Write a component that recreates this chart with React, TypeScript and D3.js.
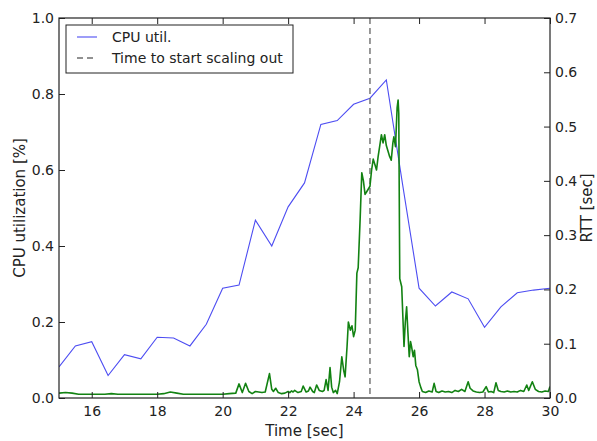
import React, { useEffect, useRef } from 'react';
import * as d3 from 'd3';

// CPU utilization sampled every 0.5 sec
const cpuTimes = [15, 15.5, 16, 16.5, 17, 17.5, 18, 18.5, 19, 19.5, 20, 20.5, 21, 21.5, 22, 22.5, 23, 23.5, 24, 24.5, 25, 25.5, 26, 26.5, 27, 27.5, 28, 28.5, 29, 29.5, 30];
const cpuValues = [0.082, 0.137, 0.148, 0.059, 0.114, 0.103, 0.16, 0.158, 0.137, 0.194, 0.289, 0.297, 0.468, 0.4, 0.503, 0.566, 0.72, 0.73, 0.773, 0.789, 0.837, 0.56, 0.289, 0.242, 0.279, 0.261, 0.186, 0.24, 0.277, 0.284, 0.289];

// RTT samples (time, sec)
const rttTimes = [
  15.0, 15.2, 15.4, 15.6, 15.8, 16.0, 16.4, 16.6, 16.8, 17.0, 17.5, 18.0, 18.2, 18.4, 18.6, 18.8, 19.0, 19.5, 20.0, 20.2,
  20.4, 20.5, 20.6, 20.7, 20.8, 20.9, 21.0, 21.2, 21.3, 21.43, 21.5, 21.55, 21.62, 21.7, 21.8, 21.9, 22.0, 22.05, 22.1, 22.15,
  22.2, 22.3, 22.4, 22.46, 22.55, 22.62, 22.67, 22.75, 22.8, 22.87, 22.95, 23.05, 23.1, 23.16, 23.22, 23.28, 23.33, 23.38, 23.45, 23.5,
  23.57, 23.64, 23.7, 23.74, 23.8, 23.84, 23.9, 23.95, 24.0, 24.05, 24.1, 24.14, 24.2, 24.25, 24.3, 24.35, 24.4, 24.45, 24.5, 24.55,
  24.6, 24.65, 24.7, 24.75, 24.8, 24.85, 24.9, 24.95, 25.0, 25.05, 25.1, 25.15, 25.2, 25.23, 25.28, 25.33, 25.36, 25.38, 25.41, 25.47,
  25.54, 25.58, 25.62, 25.66, 25.7, 25.74, 25.77, 25.82, 25.86, 25.9, 25.95, 26.0, 26.05, 26.1, 26.2, 26.3, 26.4, 26.46, 26.52, 26.6,
  26.7, 26.8, 26.9, 27.0, 27.1, 27.2, 27.3, 27.4, 27.5, 27.56, 27.65, 27.75, 27.85, 27.95, 28.05, 28.12, 28.2, 28.28, 28.35, 28.42,
  28.5, 28.6, 28.7, 28.8, 28.9, 29.0, 29.1, 29.2, 29.29, 29.35, 29.46, 29.55, 29.65, 29.75, 29.85, 29.95, 30.0,
];
const rttValues = [
  0.009, 0.01, 0.009, 0.007, 0.007, 0.007, 0.007, 0.008, 0.007, 0.007, 0.007, 0.007, 0.008, 0.011, 0.009, 0.007, 0.007, 0.007, 0.007, 0.008,
  0.009, 0.026, 0.01, 0.027, 0.012, 0.008, 0.012, 0.01, 0.011, 0.045, 0.016, 0.012, 0.018, 0.01, 0.008, 0.009, 0.012, 0.01, 0.013, 0.011,
  0.014, 0.01, 0.012, 0.022, 0.011, 0.013, 0.02, 0.012, 0.01, 0.024, 0.014, 0.012, 0.014, 0.034, 0.014, 0.056, 0.02, 0.01, 0.014, 0.008,
  0.03, 0.076, 0.05, 0.039, 0.095, 0.14, 0.125, 0.133, 0.113, 0.125, 0.23, 0.24, 0.33, 0.415, 0.4, 0.375, 0.38, 0.385, 0.39, 0.42,
  0.44, 0.43, 0.42, 0.445, 0.465, 0.485, 0.47, 0.485, 0.465, 0.455, 0.445, 0.438, 0.47, 0.481, 0.463, 0.535, 0.549, 0.524, 0.22, 0.205,
  0.095, 0.14, 0.168, 0.12, 0.076, 0.104, 0.095, 0.076, 0.088, 0.06, 0.052, 0.03, 0.02, 0.012, 0.01, 0.013, 0.011, 0.027, 0.012, 0.01,
  0.013, 0.011, 0.012, 0.01, 0.014, 0.012, 0.016, 0.012, 0.03, 0.018, 0.013, 0.011, 0.01, 0.011, 0.021, 0.011, 0.012, 0.01, 0.028, 0.014,
  0.012, 0.011, 0.013, 0.011, 0.012, 0.011, 0.014, 0.012, 0.024, 0.014, 0.03, 0.016, 0.012, 0.011, 0.013, 0.012, 0.021,
];

const scaleOutTime = 24.5;
const xTicks = [16, 18, 20, 22, 24, 26, 28, 30];
const cpuTicks = [0, 0.2, 0.4, 0.6, 0.8, 1.0];
const rttTicks = [0, 0.1, 0.2, 0.3, 0.4, 0.5, 0.6, 0.7];
const legendLabels = ['CPU util.', 'Time to start scaling out'];

const FONT = 'DejaVu Sans, sans-serif';

export default function App() {
  const ref = useRef<SVGSVGElement>(null);

  useEffect(() => {
    const svg = d3.select(ref.current);
    svg.selectAll('*').remove();

    const width = 597;
    const height = 441;
    const margin = { top: 18, right: 47, bottom: 43, left: 59 };
    const innerW = width - margin.left - margin.right;
    const innerH = height - margin.top - margin.bottom;

    const x = d3.scaleLinear().domain([15, 30]).range([margin.left, width - margin.right]);
    const yCpu = d3.scaleLinear().domain([0, 1]).range([height - margin.bottom, margin.top]);
    const yRtt = d3.scaleLinear().domain([0, 0.7]).range([height - margin.bottom, margin.top]);

    const styleAxis = (g: any) => {
      g.select('.domain').remove();
      g.selectAll('.tick line').attr('stroke', '#222').attr('stroke-width', 1);
      g.selectAll('.tick text').attr('fill', '#222').style('font-size', '14px').style('font-family', FONT);
    };

    // plot lines
    const cpuLine = d3.line<number>().x((_, i) => x(cpuTimes[i])).y((d) => yCpu(d));
    const rttLine = d3.line<number>().x((_, i) => x(rttTimes[i])).y((d) => yRtt(d));

    const clipId = 'plotclip';
    svg.append('clipPath').attr('id', clipId).append('rect')
      .attr('x', margin.left).attr('y', margin.top).attr('width', innerW).attr('height', innerH);

    const plot = svg.append('g').attr('clip-path', `url(#${clipId})`);

    plot.append('path').datum(cpuValues).attr('d', cpuLine)
      .attr('fill', 'none').attr('stroke', '#4d4df2').attr('stroke-width', 1.1);

    plot.append('line')
      .attr('x1', x(scaleOutTime)).attr('x2', x(scaleOutTime))
      .attr('y1', margin.top).attr('y2', height - margin.bottom)
      .attr('stroke', '#6e6e6e').attr('stroke-width', 1.4).attr('stroke-dasharray', '6,4');

    plot.append('path').datum(rttValues).attr('d', rttLine)
      .attr('fill', 'none').attr('stroke', '#128212').attr('stroke-width', 1.6).attr('stroke-linejoin', 'round');

    // axes with inward ticks
    svg.append('g').attr('transform', `translate(0,${height - margin.bottom})`)
      .call(d3.axisBottom(x).tickValues(xTicks).tickFormat(d3.format('d')).tickSizeInner(-6).tickSizeOuter(0).tickPadding(8))
      .call(styleAxis);
    svg.append('g').attr('transform', `translate(0,${margin.top})`)
      .call(d3.axisTop(x).tickValues(xTicks).tickFormat(() => '').tickSizeInner(-6).tickSizeOuter(0))
      .call(styleAxis);
    svg.append('g').attr('transform', `translate(${margin.left},0)`)
      .call(d3.axisLeft(yCpu).tickValues(cpuTicks).tickFormat(d3.format('.1f')).tickSizeInner(-6).tickSizeOuter(0).tickPadding(5))
      .call(styleAxis);
    svg.append('g').attr('transform', `translate(${width - margin.right},0)`)
      .call(d3.axisRight(yRtt).tickValues(rttTicks).tickFormat(d3.format('.1f')).tickSizeInner(-6).tickSizeOuter(0).tickPadding(5))
      .call(styleAxis);

    // frame
    svg.append('rect')
      .attr('x', margin.left).attr('y', margin.top).attr('width', innerW).attr('height', innerH)
      .attr('fill', 'none').attr('stroke', '#222').attr('stroke-width', 1.2);

    // axis titles
    const midY = (margin.top + height - margin.bottom) / 2;
    svg.append('text')
      .attr('x', (margin.left + width - margin.right) / 2).attr('y', 436)
      .attr('text-anchor', 'middle').style('font-size', '15px').style('font-family', FONT).attr('fill', '#222')
      .text('Time [sec]');
    svg.append('text')
      .attr('transform', `translate(25,${midY}) rotate(-90)`)
      .attr('text-anchor', 'middle').style('font-size', '15px').style('font-family', FONT).attr('fill', '#222')
      .text('CPU utilization [%]');
    svg.append('text')
      .attr('transform', `translate(592,${midY}) rotate(-90)`)
      .attr('text-anchor', 'middle').style('font-size', '15px').style('font-family', FONT).attr('fill', '#222')
      .text('RTT [sec]');

    // legend
    const legend = svg.append('g').attr('transform', 'translate(66,25)');
    legend.append('rect').attr('width', 227).attr('height', 48)
      .attr('fill', 'white').attr('stroke', '#222').attr('stroke-width', 1);
    const rows = legend.selectAll('g.row').data(legendLabels).join('g')
      .attr('class', 'row').attr('transform', (_, i) => `translate(0,${12 + i * 21})`);
    rows.append('line').attr('x1', 11).attr('x2', 31).attr('y1', 0).attr('y2', 0)
      .attr('stroke', (_, i) => (i === 0 ? '#4d4df2' : '#6e6e6e'))
      .attr('stroke-width', (_, i) => (i === 0 ? 1.1 : 1.4))
      .attr('stroke-dasharray', (_, i) => (i === 0 ? null : '6,4'));
    rows.append('text').attr('x', 46).attr('y', 5)
      .style('font-size', '14px').style('font-family', FONT).attr('fill', '#222')
      .text((d) => d);
  }, []);

  return <svg ref={ref} width={597} height={441} style={{ position: 'absolute', left: 0, top: 0 }}></svg>;
}
